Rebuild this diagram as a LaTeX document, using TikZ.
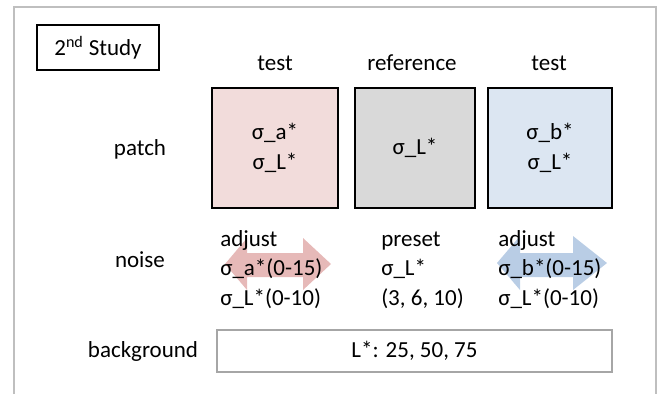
\documentclass[tikz,border=0pt]{standalone}
\usepackage{fontspec}
\setmainfont{Carlito}
\definecolor{patchred}{HTML}{F2DCDB}
\definecolor{patchgray}{HTML}{D9D9D9}
\definecolor{patchblue}{HTML}{DCE6F2}
\definecolor{arrowred}{HTML}{E6B9B8}
\definecolor{arrowblue}{HTML}{B9CDE5}
\definecolor{framegray}{HTML}{BFBFBF}
\definecolor{bggray}{HTML}{A6A6A6}
\tikzset{
  patchbox/.style={draw, line width=1.1pt, minimum height=90pt, align=center, inner sep=0pt},
  lbl/.style={anchor=base, inner sep=0pt},
  noisetxt/.style={anchor=base west, align=left, inner sep=0pt},
}
\begin{document}
\begin{tikzpicture}[x=0.75pt, y=-0.75pt, font=\fontsize{17.25}{22}\selectfont]
        \useasboundingbox (0,0) rectangle (660,394);
        %cornice
        \draw[framegray, line width=1.1pt] (14,394) -- (14,7) -- (656,7) -- (656,394);
        \node[draw, line width=1.1pt, minimum width=91.5pt, minimum height=33.75pt] (title) at (98,47.5) {2\textsuperscript{nd} Study};
        %patch
        \node[lbl] (test1) at (275,70) {test};
        \node[lbl] (ref) at (412,70) {reference};
        \node[lbl] (test2) at (549,70) {test};
        \node[patchbox, fill=patchred, minimum width=94.5pt] (patchA) at (275,148) {σ\_a*\\σ\_L*};
        \node[patchbox, fill=patchgray, minimum width=90pt] (patchL) at (415,148) {σ\_L*};
        \node[patchbox, fill=patchblue, minimum width=93pt] (patchB) at (550,148) {σ\_b*\\σ\_L*};
        \node[lbl] (patchlbl) at (140,155) {patch};
        %noise
        \fill[arrowred] (225,264) -- (247,238) -- (247,253) -- (303,253) -- (303,238) -- (331,264)
            -- (303,290) -- (303,277) -- (247,277) -- (247,290) -- cycle;
        \fill[arrowblue] (497,263) -- (520,236) -- (520,253) -- (573,253) -- (573,236) -- (607,263)
            -- (573,290) -- (573,277) -- (520,277) -- (520,290) -- cycle;
        \node[lbl] (noiselbl) at (140,267) {noise};
        \node[noisetxt] (noiseA) at (220,305) {adjust\\σ\_a*(0-15)\\σ\_L*(0-10)};
        \node[noisetxt] (noiseL) at (381,305) {preset\\σ\_L*\\(3, 6, 10)};
        \node[noisetxt] (noiseB) at (498,305) {adjust\\σ\_b*(0-15)\\σ\_L*(0-10)};
        %background
        \node[lbl] (bglbl) at (143,357) {background};
        \node[draw=bggray, line width=1.5pt, minimum width=296.25pt, minimum height=31.5pt] (bgbox) at (414.5,351) {L*: 25, 50, 75};
\end{tikzpicture}
\end{document}
